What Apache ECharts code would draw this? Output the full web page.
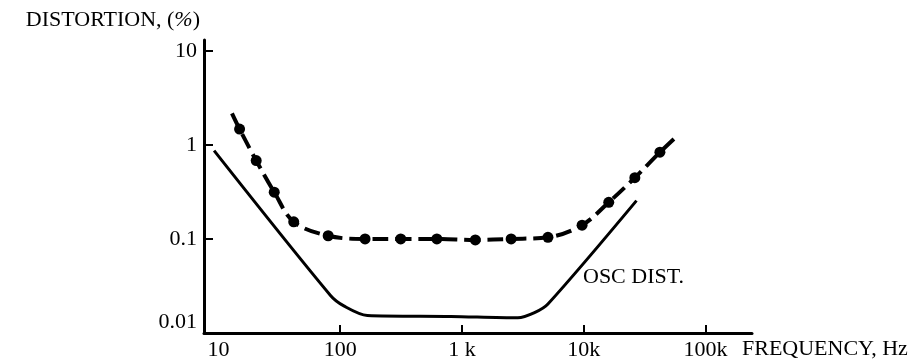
<!DOCTYPE html>
<html>
<head>
<meta charset="utf-8">
<script src="https://cdn.jsdelivr.net/npm/echarts@6/dist/echarts.min.js"></script>
<style>html,body{margin:0;padding:0;background:#fff;}#c{width:922px;height:363px;}</style>
</head>
<body>
<div id="c"></div>
<script>
// Frequency (Hz) / distortion (%) readings
const measuredFreq = [12.9, 14.9, 20.4, 28.7, 41.5, 79.6, 160, 314, 622, 1288, 2535, 5088, 9705, 16070, 26330, 42310, 58070];
const measuredDist = [2.16, 1.47, 0.68, 0.314, 0.152, 0.108, 0.100, 0.100, 0.100, 0.0975, 0.100, 0.104, 0.140, 0.245, 0.447, 0.834, 1.23];
const measuredHasDot = [false, true, true, true, true, true, true, true, true, true, true, true, true, true, true, true, false];

const oscFreq = [9.2, 83.2, 107, 167, 811, 2877, 3946, 5088, 27170];
const oscDist = [0.866, 0.0250, 0.0194, 0.01535, 0.0150, 0.0145, 0.01644, 0.0203, 0.255];

const xTickLabels = [10, 100, 1000, 10000, 100000];
const xTickMarks = [100, 1000, 10000, 100000];
const yTickLabels = [0.01, 0.1, 1, 10];
const yTickMarks = [0.1, 1, 10];
const xLabelText = {10: '10', 100: '100', 1000: '1 k', 10000: '10k', 100000: '100k'};
const yLabelText = {0.01: '0.01', 0.1: '0.1', 1: '1', 10: '10'};

const FONT = '"Liberation Serif", "DejaVu Serif", serif';
const FS = 22;

const chart = echarts.init(document.getElementById('c'), null, {renderer: 'canvas'});

const measuredData = measuredFreq.map((f, i) => ({
  value: [f, measuredDist[i]],
  symbol: measuredHasDot[i] ? 'circle' : 'none'
}));
const oscData = oscFreq.map((f, i) => [f, oscDist[i]]);

function near(a, b) { return Math.abs(a - b) / b < 1e-6; }

chart.setOption({
  animation: false,
  backgroundColor: '#fff',
  grid: {left: 204, right: 170, top: 40, bottom: 30, containLabel: false},
  xAxis: {
    type: 'log',
    logBase: 10,
    min: 7.6,
    max: 241500,
    name: 'FREQUENCY, Hz',
    nameLocation: 'end',
    nameGap: -10,
    nameTextStyle: {color: '#000', fontFamily: FONT, fontSize: FS, align: 'left', verticalAlign: 'top', padding: [5, 0, 0, 0]},
    axisLine: {show: true, lineStyle: {color: '#000', width: 3}},
    axisTick: {show: true, inside: true, length: 8, lineStyle: {color: '#000', width: 2}, customValues: xTickMarks},
    axisLabel: {
      show: true, color: '#000', fontFamily: FONT, fontSize: FS, margin: 6,
      customValues: xTickLabels,
      formatter: function (v) {
        for (const k of xTickLabels) { if (near(v, k)) return xLabelText[k]; }
        return '';
      }
    },
    splitLine: {show: false},
    minorTick: {show: false}
  },
  yAxis: {
    type: 'log',
    logBase: 10,
    min: 0.01,
    max: 13,
    name: '{a|DISTORTION, (}{b|%}{a|)}',
    nameLocation: 'end',
    nameGap: 9,
    nameTextStyle: {
      align: 'right', padding: [0, 4, 0, 0],
      rich: {
        a: {color: '#000', fontFamily: FONT, fontSize: FS},
        b: {color: '#000', fontFamily: FONT, fontSize: FS, fontStyle: 'italic'}
      }
    },
    axisLine: {show: true, lineStyle: {color: '#000', width: 3}},
    axisTick: {show: true, inside: true, length: 9, lineStyle: {color: '#000', width: 2}, customValues: yTickMarks},
    axisLabel: {
      show: true, color: '#000', fontFamily: FONT, fontSize: FS, margin: 7,
      customValues: yTickLabels,
      formatter: function (v) {
        if (near(v, 0.01)) return '{low|0.01}';
        for (const k of yTickLabels) { if (near(v, k)) return yLabelText[k]; }
        return '';
      },
      rich: {low: {color: '#000', fontFamily: FONT, fontSize: FS, padding: [0, 0, 22, 0]}}
    },
    splitLine: {show: false},
    minorTick: {show: false}
  },
  series: [
    {
      name: 'measured',
      type: 'line',
      data: measuredData,
      smooth: 0.35,
      symbol: 'circle',
      symbolSize: 11,
      showAllSymbol: true,
      itemStyle: {color: '#000'},
      lineStyle: {color: '#000', width: 4, type: [16, 7]},
      z: 3
    },
    {
      name: 'OSC DIST.',
      type: 'line',
      data: oscData,
      smooth: 0.3,
      symbol: 'none',
      lineStyle: {color: '#000', width: 3},
      z: 2
    }
  ],
  graphic: [
    {
      type: 'text',
      left: 583,
      top: 266,
      style: {text: 'OSC DIST.', fill: '#000', font: FS + 'px ' + FONT}
    }
  ]
});
</script>
</body>
</html>
